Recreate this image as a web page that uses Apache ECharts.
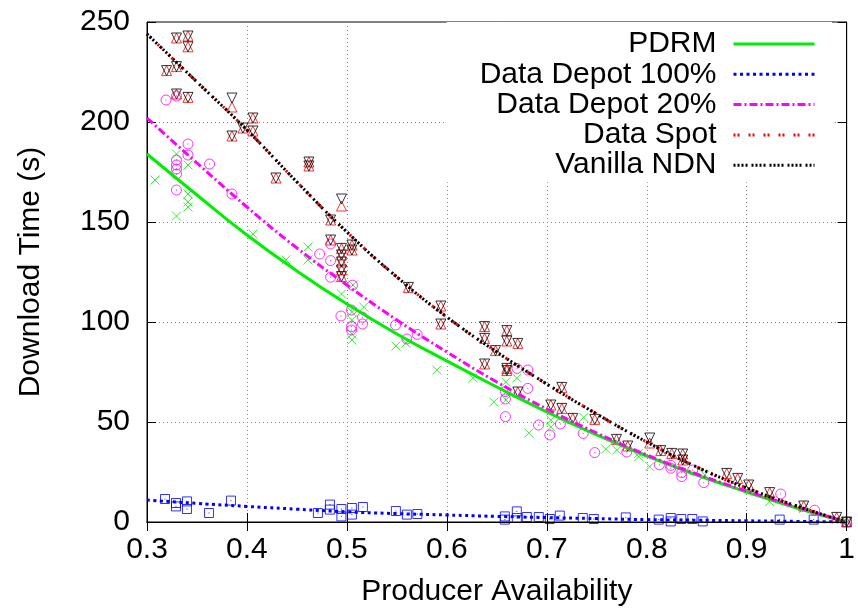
<!DOCTYPE html>
<html>
<head>
<meta charset="utf-8">
<script src="https://cdn.jsdelivr.net/npm/echarts@6/dist/echarts.min.js"></script>
<style>
html, body { margin: 0; padding: 0; background: #fff; }
#main { width: 858px; height: 615px; }
</style>
</head>
<body>
<div id="main"></div>
<script>
// measured points, [availability, download time]
const pdrmPts = [
  [0.308, 171], [0.3295, 184], [0.3295, 153], [0.341, 178.5], [0.341, 164], [0.341, 160], [0.341, 157.5],
  [0.406, 144], [0.439, 131], [0.461, 137.5], [0.461, 131], [0.4946, 114], [0.506, 118.5], [0.5168, 107.5],
  [0.505, 105], [0.505, 101], [0.505, 94], [0.505, 91], [0.549, 88], [0.559, 89.5],
  [0.59, 76], [0.626, 72], [0.647, 60], [0.659, 70], [0.659, 65], [0.659, 61], [0.67, 72], [0.682, 44.5],
  [0.704, 51], [0.704, 47.5], [0.737, 52.3], [0.759, 36.5], [0.77, 36], [0.792, 34.3], [0.792, 32.7],
  [0.803, 27.7], [0.858, 23.5], [0.923, 10.2], [0.957, 6.8], [0.99, 1.3], [1.0, 0]
];
const depot100Pts = [
  [0.318, 11.5], [0.329, 9.5], [0.329, 7.8], [0.34, 10.3], [0.34, 6.5], [0.362, 4.5], [0.384, 10.7],
  [0.471, 4.5], [0.483, 8.7], [0.483, 6.2], [0.4945, 6.5], [0.4945, 2.8], [0.505, 7], [0.505, 3.7],
  [0.516, 7.5], [0.549, 5.5], [0.56, 3.7], [0.5705, 4], [0.658, 2.8], [0.658, 1.2], [0.67, 5.3],
  [0.67, 2], [0.68, 2.5], [0.692, 2.5], [0.703, 1.5], [0.713, 3.2], [0.736, 2], [0.747, 1.5],
  [0.779, 2.3], [0.812, 1.2], [0.824, 2], [0.824, 0.3], [0.8345, 1.5], [0.8456, 1.5], [0.856, 0.3],
  [0.933, 1.2], [0.967, 1.2], [1.0, 0]
];
const depot20Pts = [
  [0.319, 211], [0.3295, 213], [0.341, 189], [0.341, 183.5], [0.3295, 181], [0.3295, 178.5],
  [0.3295, 176.5], [0.3295, 174], [0.3626, 179], [0.3295, 166], [0.385, 164], [0.4727, 134],
  [0.4837, 139], [0.4837, 130.7], [0.4837, 122.4], [0.494, 103], [0.5056, 118.4], [0.5046, 106],
  [0.5046, 97.7], [0.5046, 96], [0.5156, 102.4], [0.5156, 99], [0.5487, 98.5], [0.56, 91.5],
  [0.5703, 93.8], [0.6702, 76.8], [0.681, 76], [0.681, 66.8], [0.6586, 65.2], [0.6586, 61.5],
  [0.6586, 52.7], [0.6917, 48.5], [0.703, 43.5], [0.7136, 49], [0.7364, 44.3], [0.748, 34.7],
  [0.78, 35], [0.8126, 28.6], [0.824, 28.3], [0.824, 26.9], [0.835, 24.7], [0.835, 22.7],
  [0.846, 26], [0.857, 19.7], [0.934, 14], [0.968, 5.9], [1.0, 0]
];
const spotPts = [
  [0.3196, 225.7], [0.3295, 242], [0.3295, 227.7], [0.3295, 214], [0.341, 243], [0.341, 237.6],
  [0.341, 212.3], [0.385, 207.5], [0.385, 193], [0.396, 197], [0.406, 202], [0.406, 195.5],
  [0.429, 172], [0.462, 180], [0.462, 178], [0.4837, 151], [0.4837, 141], [0.4946, 158],
  [0.4946, 136.8], [0.4946, 133.5], [0.4946, 130], [0.4946, 126], [0.4946, 122.7], [0.505, 138.5],
  [0.505, 136], [0.5615, 117.3], [0.594, 108], [0.594, 99], [0.6378, 97.7], [0.6378, 91.8],
  [0.66, 95.7], [0.66, 90.5], [0.671, 89.3], [0.6487, 85.7], [0.6378, 79], [0.66, 76.8],
  [0.66, 75.7], [0.671, 65], [0.715, 67.3], [0.704, 58.5], [0.715, 56.8], [0.726, 51.8],
  [0.748, 51.3], [0.7697, 41.3], [0.781, 38], [0.803, 39.5], [0.814, 35.7], [0.825, 34.3],
  [0.836, 34], [0.836, 31], [0.88, 24.3], [0.891, 21.8], [0.902, 18.5], [0.923, 14.7],
  [0.957, 8], [0.99, 2.3], [1.0, 0]
];
const vanillaPts = [
  [0.3196, 225.7], [0.3295, 242], [0.3295, 227.7], [0.3295, 214], [0.341, 243], [0.341, 237.6],
  [0.341, 212.3], [0.385, 212], [0.385, 193], [0.396, 197], [0.406, 202], [0.406, 195.5],
  [0.429, 172], [0.462, 180], [0.462, 178], [0.4837, 151], [0.4837, 141], [0.4946, 161.5],
  [0.4946, 136.8], [0.4946, 133.5], [0.4946, 130], [0.4946, 126], [0.4946, 122.7], [0.505, 138.5],
  [0.505, 136], [0.5615, 117.3], [0.594, 108], [0.594, 99], [0.6378, 97.7], [0.6378, 91.8],
  [0.66, 95.7], [0.66, 90.5], [0.671, 89.3], [0.6487, 85.7], [0.6378, 79], [0.66, 76.8],
  [0.66, 75.7], [0.671, 65], [0.715, 67.3], [0.704, 58.5], [0.715, 56.8], [0.726, 51.8],
  [0.748, 51.3], [0.7697, 41.3], [0.781, 38], [0.803, 42], [0.814, 35.7], [0.825, 34.3],
  [0.836, 34], [0.836, 31], [0.88, 24.3], [0.891, 21.8], [0.902, 18.5], [0.923, 14.7],
  [0.957, 8], [0.99, 2.3], [1.0, 0]
];

// fitted curves, every 0.05
const curveX = [0.3, 0.35, 0.4, 0.45, 0.5, 0.55, 0.6, 0.65, 0.7, 0.75, 0.8, 0.85, 0.9, 0.95, 1.0];
const pdrmFit = [184, 163.5, 143.5, 125.5, 109, 94, 80.5, 67.5, 55, 43.5, 33, 23.5, 15, 7, 0];
const depot100Fit = [11, 9.3, 7.8, 6.4, 5.1, 4.2, 3.5, 2.8, 2.2, 1.7, 1.2, 0.9, 0.6, 0.3, 0];
const depot20Fit = [202, 179.5, 157.5, 137, 118.5, 101, 85, 70, 56.5, 44.5, 33.5, 24, 15.5, 7.5, 0];
const spotFit = [244, 220, 196, 170, 145, 122.5, 102.5, 85, 69, 54, 40, 27.5, 17, 8, 0];
const vanillaFit = [244, 220, 196, 170, 145, 122.5, 102.5, 85, 69, 54, 40, 27.5, 17, 8, 0];

const FONT = '"Liberation Sans", Arial, Helvetica, sans-serif';
const CROSS = 'path://M0,0L10,10M0,10L10,0';
const RING = 'path://M10,5A5,5 0 1 1 0,5A5,5 0 1 1 10,5ZM5,4.4L5,5.6';
const BOX = 'path://M0,0L10,0L10,10L0,10ZM5,4.4L5,5.6';

function pts(name, data, symbol, color, size, rotate) {
  return {
    name: name, type: 'scatter', data: data,
    symbol: symbol, symbolSize: size, symbolRotate: rotate || 0,
    itemStyle: { color: 'transparent', borderColor: color, borderWidth: 1 },
    silent: true
  };
}

function fit(name, ys, color, dash) {
  return {
    name: name, type: 'line', smooth: true, symbol: 'none', silent: true,
    data: curveX.map((x, i) => [x, ys[i]]),
    lineStyle: { color: color, width: 3, type: dash },
    itemStyle: { color: color }
  };
}

const tickStyle = { show: true, inside: true, length: 9, lineStyle: { color: '#000', width: 1 } };
const gridLine = { show: true, lineStyle: { color: '#888', width: 1, type: [1, 3] } };

var chart = echarts.init(document.getElementById('main'));
chart.setOption({
  animation: false,
  backgroundColor: '#fff',
  grid: { left: 147, right: 6, top: 22, bottom: 93, show: true, borderColor: '#000', borderWidth: 1 },
  legend: {
    data: ['PDRM', 'Data Depot 100%', 'Data Depot 20%', 'Data Spot', 'Vanilla NDN'],
    orient: 'vertical', align: 'right', right: 26, top: 22,
    padding: [7, 16, 2, 33], itemGap: 0.3, itemWidth: 81, itemHeight: 30,
    backgroundColor: '#fff', selectedMode: false,
    lineStyle: { width: 3 },
    itemStyle: { opacity: 0 },
    textStyle: { fontSize: 30, fontFamily: FONT, color: '#000', lineHeight: 30, padding: [0, 12, 0, 0] }
  },
  xAxis: [{
    type: 'value', min: 0.3, max: 1, interval: 0.1,
    name: 'Producer Availability', nameLocation: 'middle', nameGap: 55,
    nameTextStyle: { fontSize: 30, fontFamily: FONT, color: '#000' },
    axisLine: { show: true, lineStyle: { color: '#000' } },
    axisTick: tickStyle,
    axisLabel: {
      fontSize: 30, fontFamily: FONT, color: '#000', margin: 13,
      formatter: v => (v > 0.99 ? '1' : v.toFixed(1))
    },
    splitLine: gridLine
  }, {
    type: 'value', position: 'top', min: 0.3, max: 1, interval: 0.1, z: 10,
    axisLine: { show: true, lineStyle: { color: '#000' } },
    axisTick: tickStyle, axisLabel: { show: false }, splitLine: { show: false }
  }],
  yAxis: [{
    type: 'value', min: 0, max: 250, interval: 50,
    name: 'Download Time (s)', nameLocation: 'middle', nameGap: 101,
    nameTextStyle: { fontSize: 30, fontFamily: FONT, color: '#000' },
    axisLine: { show: true, lineStyle: { color: '#000' } },
    axisTick: tickStyle,
    axisLabel: { fontSize: 30, fontFamily: FONT, color: '#000', margin: 17 },
    splitLine: gridLine
  }, {
    type: 'value', position: 'right', min: 0, max: 250, interval: 50, z: 10,
    axisLine: { show: true, lineStyle: { color: '#000' } },
    axisTick: tickStyle, axisLabel: { show: false }, splitLine: { show: false }
  }],
  series: [
    pts('pdrm-pts', pdrmPts, CROSS, '#00ee00', 9),
    fit('PDRM', pdrmFit, '#00ee00', 'solid'),
    pts('depot100-pts', depot100Pts, BOX, '#0000ff', 9),
    fit('Data Depot 100%', depot100Fit, '#0000ff', [3, 3.5]),
    pts('depot20-pts', depot20Pts, RING, '#ff00ff', 10),
    fit('Data Depot 20%', depot20Fit, '#ff00ff', [8, 3, 2, 3]),
    pts('spot-pts', spotPts, 'triangle', '#ff0000', 10),
    fit('Data Spot', spotFit, '#ff0000', [2, 2, 2, 9]),
    pts('vanilla-pts', vanillaPts, 'triangle', '#000000', 10, 180),
    fit('Vanilla NDN', vanillaFit, '#000000', [2, 2, 2, 2, 2, 2, 2, 4])
  ]
});
</script>
</body>
</html>
